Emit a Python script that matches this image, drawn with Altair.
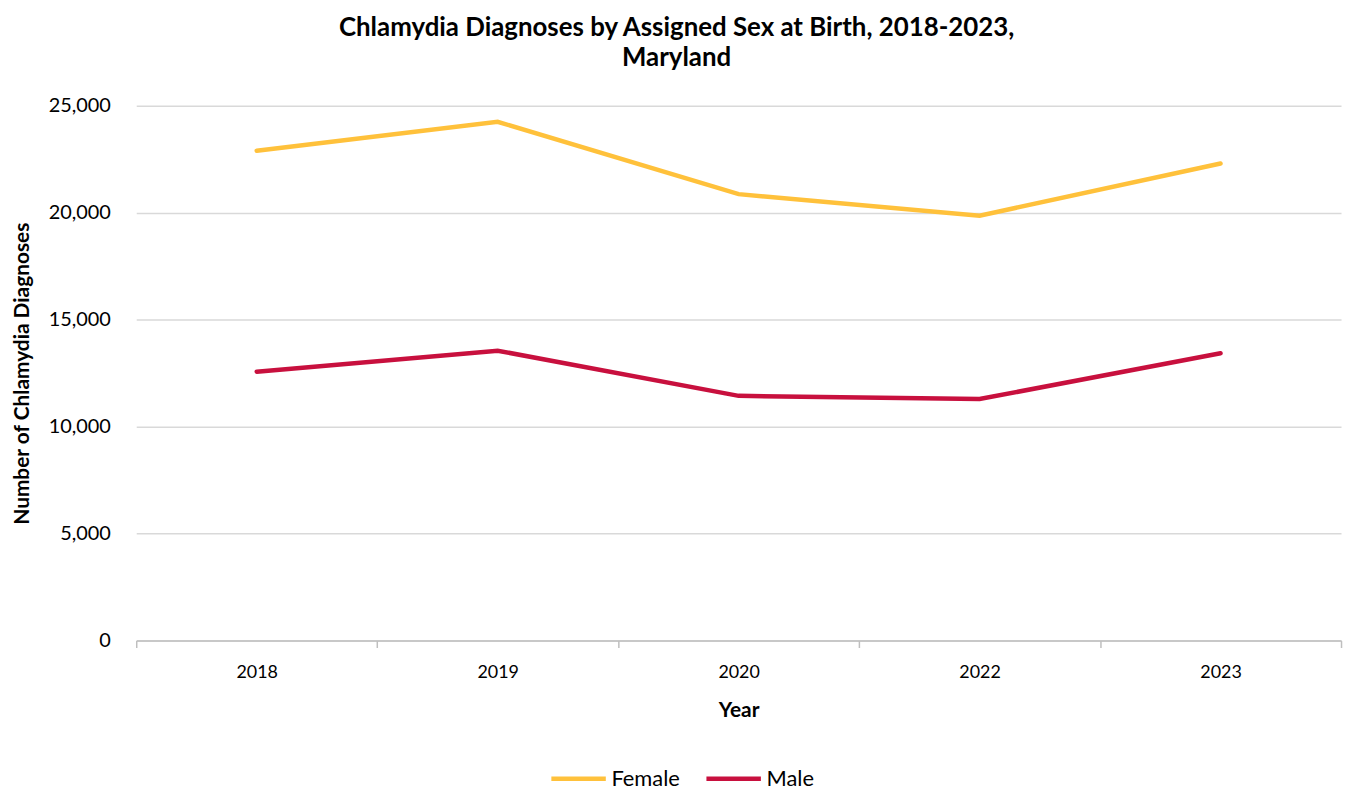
import altair as alt
import pandas as pd

years = ["2018", "2019", "2020", "2022", "2023"]
female = [22900, 24250, 20870, 19860, 22300]
male = [12570, 13550, 11440, 11290, 13430]
series = ["Female", "Male"]
colors = ["#FFC13B", "#C8103E"]

rows = []
for y, f, m in zip(years, female, male):
    rows.append({"Year": y, "Sex": "Female", "Count": f})
    rows.append({"Year": y, "Sex": "Male", "Count": m})
df = pd.DataFrame(rows)

FONT = "Lato"

chart = alt.Chart(df).mark_line(strokeWidth=4.5, strokeCap="round").encode(
    x=alt.X("Year:N", sort=years, scale=alt.Scale(paddingInner=0, paddingOuter=0),
            axis=alt.Axis(title="Year", labelAngle=0, labelFontSize=18, labelColor="#000000",
                          titleFontSize=21, titleFontWeight="bold", titleColor="#000000",
                          domainColor="#BFBFBF", domainWidth=1.5, tickColor="#BFBFBF", tickWidth=1.5,
                          tickSize=7, tickBand="extent", labelPadding=16, titlePadding=18,
                          grid=False)),
    y=alt.Y("Count:Q", scale=alt.Scale(domain=[0, 25000], nice=False),
            axis=alt.Axis(title="Number of Chlamydia Diagnoses", values=[0, 5000, 10000, 15000, 20000, 25000],
                          format=",d", labelFontSize=20, labelColor="#000000",
                          titleFontSize=21, titleFontWeight="bold", titleColor="#000000",
                          domain=False, ticks=False, labelPadding=26, titlePadding=16,
                          gridColor="#D9D9D9", gridWidth=1.5)),
    color=alt.Color("Sex:N", scale=alt.Scale(domain=series, range=colors),
                    legend=alt.Legend(title=None, orient="none", direction="horizontal",
                                      legendX=415, legendY=647, symbolType="stroke",
                                      symbolSize=3000, symbolStrokeWidth=4.5,
                                      labelFontSize=22, labelColor="#000000", columnPadding=17,
                                      labelOffset=3)),
).properties(
    width=1212,
    height=538,
    title=alt.Title(["Chlamydia Diagnoses by Assigned Sex at Birth, 2018-2023,", "Maryland"],
                    fontSize=26, fontWeight="bold", color="#000000", frame="bounds",
                    anchor="middle", lineHeight=30, offset=25),
    autosize=alt.AutoSizeParams(type="none"),
    padding={"left": 129, "top": 96, "right": 3, "bottom": 150},
).configure(font=FONT).configure_view(stroke=None)

chart.save("out.html", embed_options={"renderer": "svg", "actions": False})
